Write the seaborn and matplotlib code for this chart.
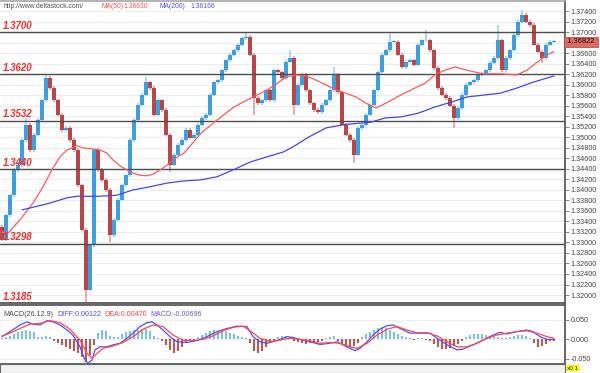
import numpy as np
import pandas as pd
import matplotlib
matplotlib.use('Agg')
import matplotlib.pyplot as plt
from matplotlib.patches import Rectangle
import seaborn as sns

# %% data
# one close per bar (open = previous close)
closes = [1.3305, 1.3352, 1.3390, 1.3438, 1.3447, 1.3495, 1.3524, 1.3476, 1.3505, 1.3533,
          1.3571, 1.3613, 1.3594, 1.3571, 1.3543, 1.3514, 1.3518, 1.3495, 1.3476, 1.3409,
          1.3324, 1.3210, 1.3295, 1.3476, 1.3438, 1.3419, 1.3400, 1.3314, 1.3343, 1.3381,
          1.3409, 1.3428, 1.3495, 1.3533, 1.3562, 1.3581, 1.3605, 1.3594, 1.3543, 1.3571,
          1.3552, 1.3505, 1.3448, 1.3467, 1.3486, 1.3495, 1.3514, 1.3499, 1.3505, 1.3524,
          1.3537, 1.3543, 1.3581, 1.3605, 1.3609, 1.3628, 1.3647, 1.3657, 1.3666, 1.3676,
          1.3689, 1.3691, 1.3657, 1.3575, 1.3565, 1.3571, 1.3590, 1.3571, 1.3628, 1.3624,
          1.3613, 1.3644, 1.3651, 1.3562, 1.3600, 1.3619, 1.3590, 1.3565, 1.3552, 1.3548,
          1.3562, 1.3571, 1.3590, 1.3619, 1.3586, 1.3524, 1.3505, 1.3495, 1.3467, 1.3518,
          1.3524, 1.3543, 1.3562, 1.3590, 1.3624, 1.3657, 1.3666, 1.3682, 1.3682, 1.3657,
          1.3634, 1.3644, 1.3647, 1.3638, 1.3676, 1.3685, 1.3685, 1.3666, 1.3632, 1.3594,
          1.3581, 1.3575, 1.3560, 1.3537, 1.3556, 1.3581, 1.3600, 1.3605, 1.3609, 1.3619,
          1.3622, 1.3628, 1.3642, 1.3651, 1.3685, 1.3628, 1.3651, 1.3666, 1.3695, 1.3720,
          1.3733, 1.3720, 1.3714, 1.3676, 1.3663, 1.3651, 1.3676, 1.3682, 1.36822]
first_open = 1.3330
high_spikes = {6: 1.3537, 11: 1.3619, 36: 1.3615, 61: 1.3700, 72: 1.3666, 83: 1.3634,
               97: 1.3698, 106: 1.3704, 124: 1.3714, 130: 1.3742}
low_spikes = {21: 1.3185, 27: 1.3301, 42: 1.3434, 63: 1.3543, 73: 1.3543, 88: 1.3451,
              113: 1.3518, 135: 1.3642}

ma50_idx = [-0.5, 1.5, 4.5, 7.75, 10.25, 12.75, 14.5, 16.25, 18.75, 20.25, 22.75, 24.5, 26.25, 27.75,
            29.5, 31.25, 32.75, 34.5, 36.25, 37.75, 39.5, 41.25, 42.75, 44.5, 45.5, 49.75, 53.75, 58,
            62.25, 66.25, 69.25, 71, 73.5, 76, 78.5, 81, 83.5, 86, 88.5, 91, 93.5, 96.5, 99.75,
            103.25, 105.75, 108.25, 110.75, 113.25, 116.25, 120.25, 124.5, 128.75, 131.25, 133.75,
            136.25, 138]
ma50_val = [1.3320, 1.3318, 1.3343, 1.3375, 1.3406, 1.3442, 1.3463, 1.3476, 1.3484, 1.3480,
            1.3478, 1.3476, 1.3470, 1.3457, 1.3446, 1.3438, 1.3432, 1.3428, 1.3427, 1.3430,
            1.3438, 1.3447, 1.3457, 1.3466, 1.3470, 1.3508, 1.3533, 1.3558, 1.3575, 1.3590,
            1.3605, 1.3615, 1.3619, 1.3617, 1.3609, 1.3600, 1.3590, 1.3584, 1.3577, 1.3565,
            1.3556, 1.3567, 1.3581, 1.3594, 1.3603, 1.3619, 1.3628, 1.3634, 1.3628, 1.3621,
            1.3621, 1.3619, 1.3628, 1.3643, 1.3657, 1.3663]
ma200_idx = [5, 7.75, 12, 16.25, 18.75, 24.5, 28.75, 32.75, 37, 41.25, 45.25, 49.5, 53.75, 57.75,
             62, 66.25, 70.25, 72.75, 76.75, 81, 85.25, 89.25, 92.25, 95.75, 99.75, 104, 108.25,
             112.25, 116.25, 124.5, 128.75, 132.75, 138]
ma200_val = [1.3362, 1.3367, 1.3375, 1.3385, 1.3388, 1.3388, 1.3390, 1.3400, 1.3406, 1.3413,
             1.3417, 1.3419, 1.3425, 1.3438, 1.3453, 1.3463, 1.3472, 1.3482, 1.3501, 1.3518,
             1.3524, 1.3527, 1.3529, 1.3537, 1.3539, 1.3546, 1.3558, 1.3567, 1.3577, 1.3584,
             1.3594, 1.3605, 1.3617]

levels = [1.3700, 1.3620, 1.3532, 1.3440, 1.3298, 1.3185]
level_labels = ['1.3700', '1.3620', '1.3532', '1.3440', '1.3298', '1.3185']
price_ticks = np.round(np.arange(1.320, 1.3745, 0.002), 3)
last_price = 1.36822

# MACD panel, in the panel's axis units (x0.1)
macd_hist = [3, 6, 8, 12, 18, 20, 22, 20, 18, 6,
             4, 8, 6, -6, -10, -15, -20, -26, -32, -36,
             -45, -58, -40, -15, 15, 22, 20, 8, 5, 4,
             12, 18, 20, 22, 24, 26, 25, 20, 8, 2,
             -4, -15, -28, -37, -30, -20, -10, -6, -3, 4,
             10, 16, 20, 22, 20, 21, 20, 16, 12, 8,
             6, 3, -10, -30, -37, -30, -20, -10, -4, 4,
             8, 8, 6, -6, -8, -10, -12, -10, -10, -8,
             -6, 2, 6, 7, -6, -16, -20, -20, -18, -10,
             5, 12, 18, 24, 28, 30, 28, 22, 18, 12,
             8, 4, 2, -3, 2, 3, -2, -6, -12, -20,
             -26, -25, -22, -18, -12, -6, 4, 10, 13, 13,
             12, 10, 8, 6, 6, 3, 2, 5, 8, 10,
             10, 8, 2, -10, -20, -18, -12, -6, -4]  # thousandths
diff_idx = [0, 2, 4.5, 6.25, 7.75, 9.5, 11.25, 12.75, 14.5, 16.25, 17.75, 19.5, 20.75, 21.5, 22.5,
            23.25, 24.5, 26.25, 27.75, 29.5, 31.25, 32.75, 34.5, 36.25, 37.5, 38.75, 40.25, 42,
            43.75, 46.25, 48.75, 51.25, 53.75, 56.25, 58.75, 61.25, 62.75, 64.5, 66.25, 68.75,
            71.25, 72.75, 74.5, 77, 79.5, 82, 83.75, 85.25, 87, 88.25, 89.5, 91.25, 92.75, 94.5,
            96.25, 97.75, 99.5, 102, 104.5, 107, 108.75, 111.25, 113.75, 115.25, 117.75, 120.25,
            122.75, 124.5, 126.25, 128.75, 131.25, 132.75, 134.5, 136.25, 138]
diff_val = [0.006, 0.019, 0.036, 0.044, 0.038, 0.036, 0.047, 0.044, 0.036, 0.023,
            0.010, -0.020, -0.054, -0.062, -0.054, -0.028, -0.020, -0.020, -0.015, -0.011,
            0.002, 0.015, 0.032, 0.042, 0.044, 0.036, 0.023, 0.006, -0.007, -0.009,
            -0.004, 0.006, 0.019, 0.027, 0.033, 0.032, 0.006, -0.007, -0.011, -0.004,
            0.006, 0.004, -0.001, -0.007, -0.014, -0.011, -0.007, -0.015, -0.024, -0.030,
            -0.024, -0.007, 0.010, 0.025, 0.034, 0.036, 0.027, 0.015, 0.015, 0.015,
            0.002, -0.015, -0.028, -0.026, -0.015, -0.003, 0.010, 0.017, 0.013, 0.019,
            0.023, 0.019, 0.006, -0.001, -0.001]
dea_idx = [0, 2, 4.5, 7, 9.5, 12, 14.5, 17, 19.5, 21.25, 22.5, 23.75, 25.25, 27.75, 30.25,
           32.75, 35.25, 37.75, 40.25, 42.75, 45.25, 47.75, 50.25, 52.75, 55.25, 57.75, 60.25,
           62, 64.5, 67, 69.5, 72, 74.5, 77, 79.5, 82, 84.5, 87, 88.75, 91.25, 93.75, 96.25,
           98.75, 101.25, 103.75, 106.25, 108.75, 111.25, 113.75, 116.25, 118.75, 121.25,
           123.75, 126.25, 128.75, 131.25, 133.75, 136.25, 138]
dea_val = [0.008, 0.015, 0.027, 0.038, 0.040, 0.047, 0.042, 0.025, -0.003, -0.037,
           -0.049, -0.037, -0.024, -0.018, -0.009, 0.006, 0.025, 0.036, 0.032, 0.010,
           -0.003, -0.004, -0.001, 0.008, 0.021, 0.030, 0.033, 0.021, 0.002, -0.007,
           -0.003, 0.002, -0.001, -0.005, -0.011, -0.009, -0.011, -0.020, -0.024, -0.011,
           0.010, 0.025, 0.032, 0.023, 0.016, 0.016, 0.008, -0.007, -0.020, -0.020,
           -0.011, 0.002, 0.010, 0.015, 0.019, 0.021, 0.015, 0.006, 0.002]
macd_ticks = [-0.05, 0.0, 0.05]
macd_tick_labels = ['-0.050', '0.000', '0.050']

# %% style
sns.set_theme(style='white')
plt.rcParams['font.family'] = ['Liberation Sans', 'DejaVu Sans']

UP, DOWN = '#3f9fdc', '#b8474a'
UP_W, DOWN_W = '#9fd0ee', '#dca0a2'
wick_pad = 0.0003

fig = plt.figure(figsize=(6, 3.73), dpi=100)
fig.patch.set_facecolor('white')
ax = fig.add_axes([0, 1 - 303 / 373, 565 / 600, 302 / 373])
axm = fig.add_axes([0, 1 - 364 / 373, 565 / 600, 59 / 373])

# %% candles
idx = np.arange(len(closes))
c = np.array(closes)
o = np.array([first_open] + closes[:-1])
top = np.maximum(o, c)
bot = np.minimum(o, c)
body = np.maximum(top - bot, 0.00012)
hi = top + wick_pad
lo = bot - wick_pad
for k, v in high_spikes.items():
    hi[k] = max(hi[k], v)
for k, v in low_spikes.items():
    lo[k] = min(lo[k], v)
up = c >= o

ax.vlines(idx, lo, hi, colors=[UP_W if u else DOWN_W for u in up], lw=1.2, zorder=2)
ax.bar(idx, body, bottom=bot, width=0.82, color=[UP if u else DOWN for u in up],
       linewidth=0, zorder=3)

sns.lineplot(x=ma50_idx, y=ma50_val, ax=ax, color='#ff5a5a', lw=0.9, errorbar=None, zorder=5)
sns.lineplot(x=ma200_idx, y=ma200_val, ax=ax, color='#4646ee', lw=0.9, errorbar=None, zorder=5)

for lv, lab in zip(levels, level_labels):
    ax.axhline(lv, color='#4d4d4d', lw=1.0, zorder=4)
    ax.annotate(lab, xy=(0, lv), xycoords=ax.get_yaxis_transform(), xytext=(2.2, 4.6),
                textcoords='offset points', va='center', ha='left', fontsize=7,
                fontweight='bold', fontstyle='italic', color='#ff2a2a', zorder=6)

ax.set_xlim(-0.5, 140.75)
ax.set_ylim(1.31848, 1.37596)
ax.set_xticks([])
ax.set_yticks(price_ticks)
# the price tag sits over the 1.36800 label, as in the source
ax.set_yticklabels(['' if abs(v - 1.368) < 1e-9 else f'{v:.5f}' for v in price_ticks])
ax.yaxis.tick_right()
ax.tick_params(axis='y', which='both', right=True, direction='out', length=3, width=0.6,
               color='#777777', labelsize=5.2, labelcolor='#444444', pad=1)
ax.grid(axis='y', color='#ececec', lw=0.8, zorder=0)
ax.set_axisbelow(True)
ax.spines['left'].set_visible(False)
ax.spines['top'].set_color('#aaaaaa')
ax.spines['right'].set_color('#555555')
ax.spines['bottom'].set_color('#555555')
ax.set_xlabel('')
ax.set_ylabel('')

ax.text(1.0, last_price, ' 1.36822 ', transform=ax.get_yaxis_transform(), ha='left',
        va='center', fontsize=5.4, color='#2a0a0a', clip_on=False, zorder=10,
        bbox=dict(boxstyle='square,pad=0.2', fc='#da6d62', ec='#b04040', lw=0.5))

# %% header text
fig.text(3 / 600, 1 - 6 / 373, 'http://www.deltastock.com/', fontsize=4.9, color='#555555', va='center')
fig.text(101 / 600, 1 - 6 / 373, 'MA(50)', fontsize=4.9, color='#ff5050', va='center')
fig.text(123 / 600, 1 - 6 / 373, '1.36630', fontsize=4.9, color='#ff5050', va='center')
fig.text(160 / 600, 1 - 6 / 373, 'MA(200)', fontsize=4.9, color='#5050ff', va='center')
fig.text(190 / 600, 1 - 6 / 373, '1.36166', fontsize=4.9, color='#5050ff', va='center')

# %% MACD panel
hist = np.array(macd_hist) / 1000.0
axm.vlines(idx, 0, hist, colors=['#7fbfe0' if h >= 0 else '#b65a5a' for h in hist], lw=1.5, zorder=2)
sns.lineplot(x=diff_idx, y=diff_val, ax=axm, color='#5050ff', lw=0.9, errorbar=None, zorder=4)
sns.lineplot(x=dea_idx, y=dea_val, ax=axm, color='#ff4848', lw=0.9, errorbar=None, zorder=4)
axm.set_xlim(-0.5, 140.75)
axm.set_ylim(-0.0641, 0.0872)
axm.set_xticks([])
axm.set_yticks(macd_ticks)
axm.set_yticklabels(macd_tick_labels)
axm.yaxis.tick_right()
axm.tick_params(axis='y', right=True, direction='out', length=3, width=0.6, color='#777777',
                labelsize=5.2, labelcolor='#444444', pad=1)
axm.grid(axis='y', color='#efefef', lw=0.8, zorder=0)
axm.set_axisbelow(True)
axm.spines['left'].set_visible(False)
for s in ['top', 'right', 'bottom']:
    axm.spines[s].set_color('#555555')
axm.set_xlabel('')
axm.set_ylabel('')

fig.text(3 / 600, 1 - 315 / 373, 'MACD(26.12.9)', fontsize=5.1, color='#444444', va='center')
fig.text(57 / 600, 1 - 315 / 373, 'DIFF:0.00122', fontsize=5.1, color='#4a4aff', va='center')
fig.text(104 / 600, 1 - 315 / 373, 'DEA:0.00470', fontsize=5.1, color='#ff4040', va='center')
fig.text(150 / 600, 1 - 315 / 373, 'MACD:-0.00696', fontsize=5.1, color='#6a5ad0', va='center')
fig.text(567 / 600, 1 - 368 / 373, 'x0.1', fontsize=4.6, color='#333333', va='center',
         bbox=dict(boxstyle='square,pad=0.12', fc='#ffff00', ec='none'), zorder=20)

# bottom strip
fig.patches.append(Rectangle((0, 0), 565 / 600, 9 / 373, transform=fig.transFigure,
                             fc='#f2f2f2', ec='#666666', lw=0.8))

fig.savefig('out.png', dpi=100)
